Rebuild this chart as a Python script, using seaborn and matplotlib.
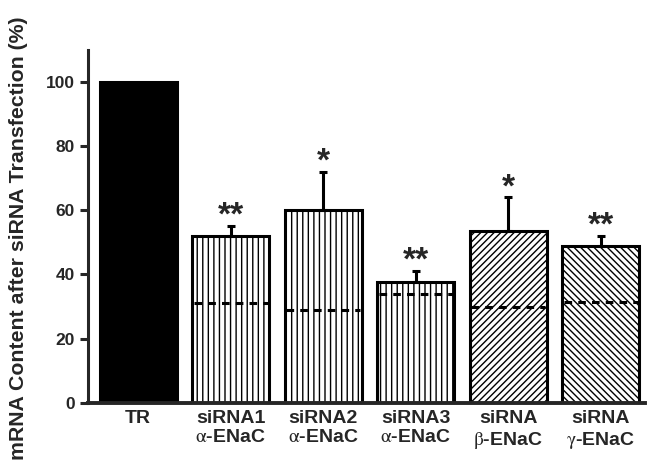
import matplotlib
matplotlib.use("Agg")
import matplotlib.pyplot as plt
import seaborn as sns
import numpy as np
import pandas as pd

# Data
labels = ["TR", "siRNA1\n$\\mathrm{\\alpha}$-ENaC", "siRNA2\n$\\mathrm{\\alpha}$-ENaC",
          "siRNA3\n$\\mathrm{\\alpha}$-ENaC", "siRNA\n$\\mathrm{\\beta}$-ENaC",
          "siRNA\n$\\mathrm{\\gamma}$-ENaC"]
means = [100, 52, 60, 37.5, 53.5, 49]
errors = [0, 3, 12, 3.5, 10.5, 3]
dashed_levels = [None, 31, 29, 34, 30, 31.5]
stars = ["", "**", "*", "**", "*", "**"]
hatches = [None, "|||", "|||", "|||", "/////", "\\\\\\\\\\"]

sns.set_style("ticks")
plt.rcParams["font.family"] = ["Liberation Sans", "DejaVu Sans"]
plt.rcParams["mathtext.fontset"] = "stix"
plt.rcParams["hatch.linewidth"] = 1.0

fig = plt.figure(figsize=(6.53, 4.75), dpi=100)
ax = fig.add_axes([0.135, 0.152, 0.853, 0.743])

df = pd.DataFrame({"group": labels, "value": means})
sns.barplot(data=df, x="group", y="value", ax=ax, width=0.83,
            color="white", edgecolor="black", linewidth=2.2, errorbar=None)

for i, patch in enumerate(ax.patches):
    if i == 0:
        patch.set_facecolor("black")
    else:
        patch.set_facecolor("white")
        patch.set_hatch(hatches[i])

x = np.arange(len(labels))
ax.errorbar(x[1:], means[1:], yerr=[np.zeros(5), errors[1:]], fmt="none",
            ecolor="black", elinewidth=2.2, capsize=3, capthick=2.2, zorder=3)

for i in range(1, len(labels)):
    ax.hlines(dashed_levels[i], i - 0.4, i + 0.4, colors="black",
              linestyles=(0, (2.5, 2)), linewidth=2.2, zorder=4)
    ax.annotate(stars[i], (i, means[i] + errors[i]), xytext=(0, 1),
                textcoords="offset points", ha="center", va="baseline",
                fontsize=24, fontweight="bold")

ax.set_xlim(-0.54, 5.48)
ax.set_ylim(0, 110)
ax.set_yticks([0, 20, 40, 60, 80, 100])
ax.set_xlabel("")
ax.set_ylabel("mRNA Content after siRNA Transfection (%)", fontsize=15.3,
              fontweight="bold")
ax.yaxis.set_label_coords(-0.108, 0.465)
ax.tick_params(axis="x", length=0, labelsize=14, pad=5)
ax.tick_params(axis="y", width=2.2, length=6, labelsize=12.5)
for lbl in ax.get_xticklabels() + ax.get_yticklabels():
    lbl.set_fontweight("bold")
sns.despine(ax=ax)
ax.spines["left"].set_linewidth(2.2)
ax.spines["bottom"].set_linewidth(2.8)

plt.savefig("out.png", dpi=100)
plt.close()
